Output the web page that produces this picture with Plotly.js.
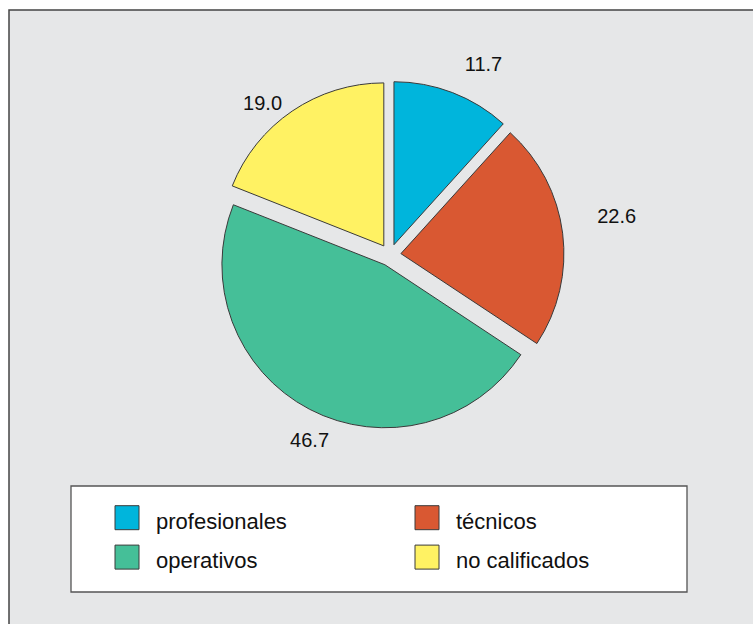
<!DOCTYPE html>
<html><head><meta charset="utf-8">
<script src="https://cdn.plot.ly/plotly-3.0.1.min.js"></script>
<style>html,body{margin:0;padding:0;background:#fff}#chart{width:753px;height:624px}</style>
</head><body><div id="chart"></div>
<script>
// ---- data ----
const categories = ['profesionales', 'técnicos', 'operativos', 'no calificados'];
const shares = [11.7, 22.6, 46.7, 19.0];
const sliceColors = ['#00b5dc', '#d95832', '#45bf98', '#fff263'];

// ---- layout helpers ----
const W = 753, H = 624;
const cx = 390, cy = 255, R = 163, pullFrac = 0.0675;
const lcx = 407, lcy = 256, labelR = 189;
function dom(x, y, half) {
  return { x: [(x - half) / W, (x + half) / W], y: [(H - y - half) / H, (H - y + half) / H] };
}
const FONT = 'Liberation Sans, Arial, sans-serif';

const labelPie = {
  type: 'pie', labels: categories, values: shares, sort: false, direction: 'clockwise', rotation: -5,
  marker: { colors: categories.map(() => 'rgba(0,0,0,0)'), line: { width: 0 } },
  texttemplate: '%{value:.1f}', textposition: 'outside',
  textfont: { family: FONT, size: 20, color: '#111' },
  domain: dom(lcx, lcy, labelR), showlegend: false, hoverinfo: 'skip'
};

const mainPie = {
  type: 'pie', labels: categories.map(c => '<span style="font-size:22px">' + c + '</span>'),
  values: shares, sort: false, direction: 'clockwise', rotation: 0, pull: pullFrac,
  marker: { colors: sliceColors, line: { color: '#3a3a3a', width: 1 } },
  textinfo: 'none', hovertemplate: '%{label}: %{value:.1f}<extra></extra>',
  domain: dom(cx, cy, R * (1 + pullFrac)), showlegend: true
};

const layout = {
  width: W, height: H, margin: { l: 0, r: 0, t: 0, b: 0 },
  paper_bgcolor: '#ffffff', plot_bgcolor: 'rgba(0,0,0,0)',
  showlegend: true,
  legend: {
    orientation: 'h', x: 98 / W, y: (H - 493) / H, xanchor: 'left', yanchor: 'top',
    entrywidth: 237, entrywidthmode: 'pixels', itemwidth: 48,
    font: { family: FONT, size: 28, color: '#111' },
    bgcolor: 'rgba(0,0,0,0)', borderwidth: 0, traceorder: 'normal'
  },
  shapes: [
    { type: 'rect', xref: 'paper', yref: 'paper', x0: 9 / W, x1: 1.02, y0: -0.02, y1: (H - 10) / H,
      fillcolor: '#e6e7e8', line: { color: '#444', width: 1.5 }, layer: 'below' },
    { type: 'rect', xref: 'paper', yref: 'paper', x0: 71 / W, x1: 687 / W, y0: (H - 592) / H, y1: (H - 486) / H,
      fillcolor: '#ffffff', line: { color: '#555', width: 1.3 }, layer: 'below' }
  ]
};

Plotly.newPlot('chart', [labelPie, mainPie], layout, { displayModeBar: false }).then(() => {
  document.querySelectorAll('.legendpoints path').forEach(p => p.setAttribute('d', 'M12,12H-12V-12H12Z'));
});
</script>
</body></html>
